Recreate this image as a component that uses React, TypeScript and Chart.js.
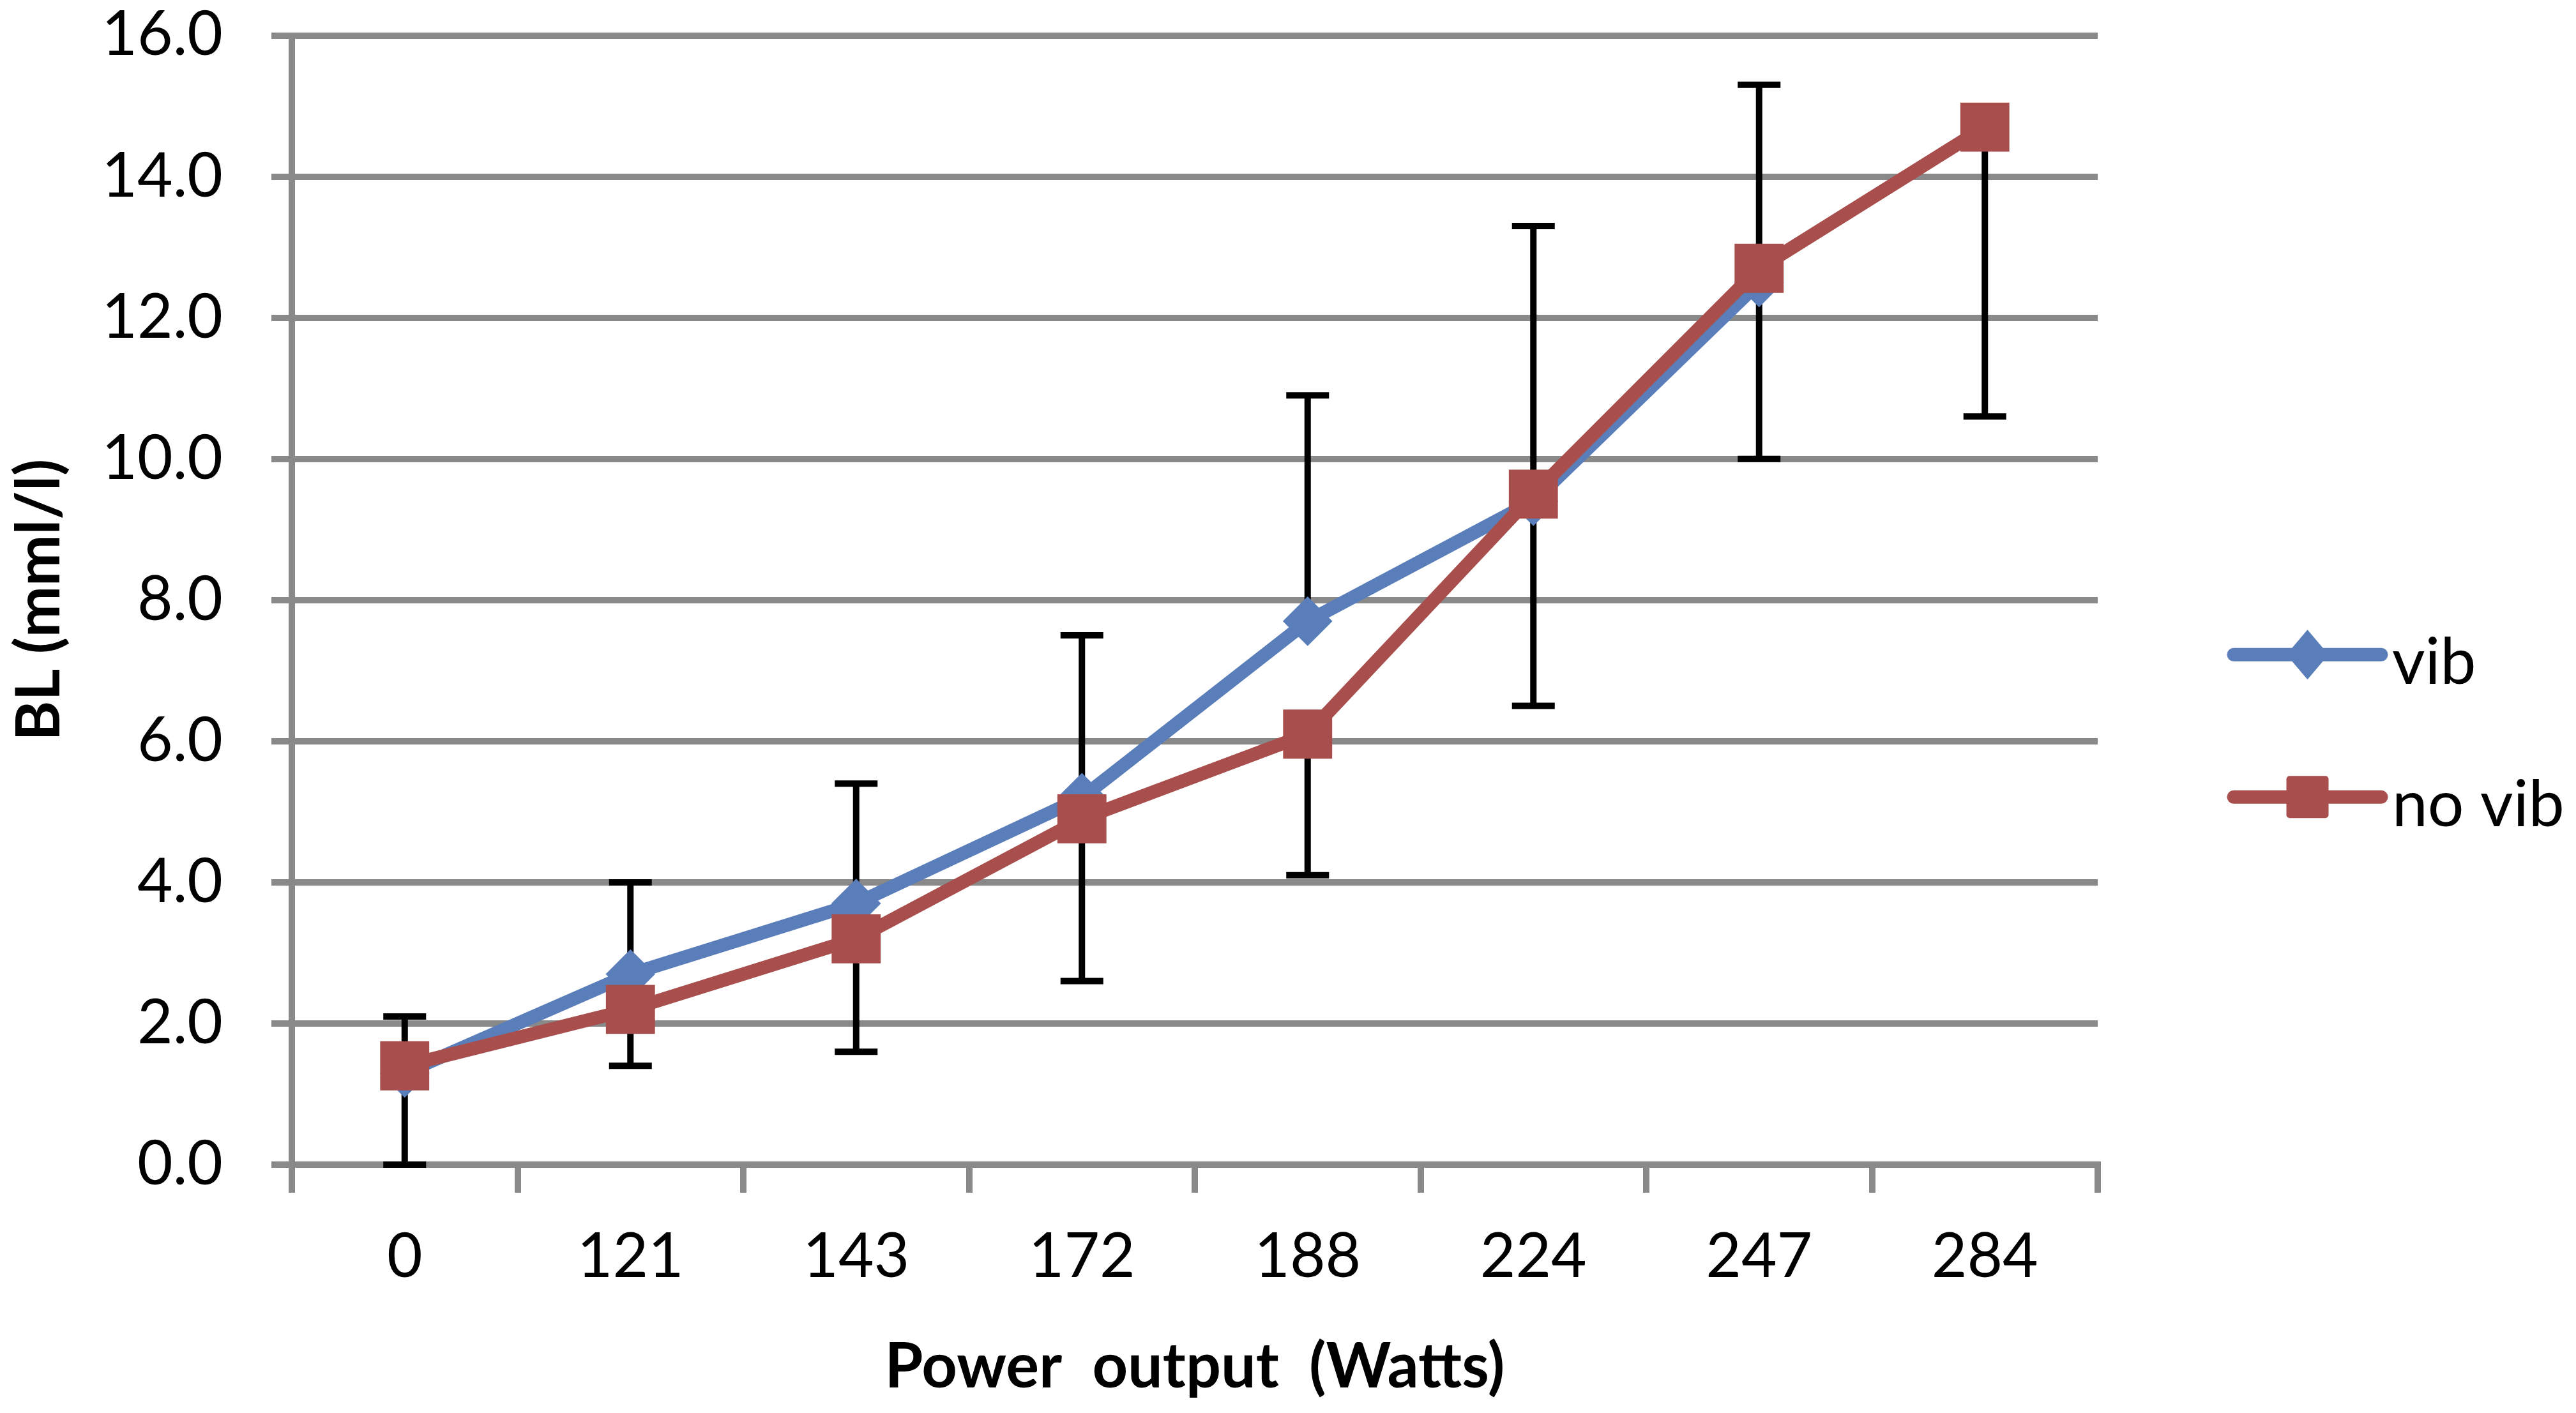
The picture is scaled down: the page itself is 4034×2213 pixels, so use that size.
import React, { useEffect, useRef } from 'react';
import { Chart, registerables } from 'chart.js';

Chart.register(...registerables);

// ---- data ----
const categories = ['0', '121', '143', '172', '188', '224', '247', '284'];
const seriesNames = ['vib', 'no vib'];
const vibValues: (number | null)[] = [1.3, 2.7, 3.7, 5.2, 7.7, 9.4, 12.5, null];
const noVibValues: (number | null)[] = [1.4, 2.2, 3.2, 4.9, 6.1, 9.5, 12.7, 14.7];
// error bar end points (vib: upward bars, no vib: downward bars)
const vibUpper: (number | null)[] = [2.1, 4.0, 5.4, 7.5, 10.9, 13.3, 15.3, null];
const noVibLower: (number | null)[] = [0.0, 1.4, 1.6, 2.6, 4.1, 6.5, 10.0, 10.6];
const yMin = 0;
const yMax = 16;
const yStep = 2;

const BLUE = '#5A7EBA';
const RED = '#A84F4D';
const GRID = '#898989';
const FONT = 'Lato';

const errorBarPlugin = {
  id: 'errorBars',
  beforeDatasetsDraw(chart: any) {
    const { ctx, scales } = chart;
    const x = scales.x;
    const y = scales.y;
    const cap = 67;
    ctx.save();
    ctx.strokeStyle = '#000000';
    ctx.lineWidth = 10;
    ctx.lineCap = 'butt';
    const draw = (i: number, from: number | null, to: number | null) => {
      if (from == null || to == null) return;
      const px = x.getPixelForValue(i);
      const y0 = y.getPixelForValue(from);
      const y1 = y.getPixelForValue(to);
      ctx.beginPath();
      ctx.moveTo(px, y0);
      ctx.lineTo(px, y1);
      ctx.moveTo(px - cap / 2, y1);
      ctx.lineTo(px + cap / 2, y1);
      ctx.stroke();
    };
    categories.forEach((_, i) => {
      draw(i, vibValues[i], vibUpper[i]);
      draw(i, noVibValues[i], noVibLower[i]);
    });
    ctx.restore();
  },
};

const legendPlugin = {
  id: 'sideLegend',
  afterDraw(chart: any) {
    const { ctx, chartArea } = chart;
    const x0 = chartArea.right + 213;
    const x1 = chartArea.right + 444;
    const mx = (x0 + x1) / 2;
    const tx = chartArea.right + 461;
    const cy = (chartArea.top + chartArea.bottom) / 2 + 197;
    const rows = [
      { name: seriesNames[0], color: BLUE, marker: 'diamond', y: cy - 111.5 },
      { name: seriesNames[1], color: RED, marker: 'square', y: cy + 111.5 },
    ];
    ctx.save();
    rows.forEach((r) => {
      ctx.strokeStyle = r.color;
      ctx.fillStyle = r.color;
      ctx.lineWidth = 21;
      ctx.lineCap = 'round';
      ctx.beginPath();
      ctx.moveTo(x0, r.y);
      ctx.lineTo(x1, r.y);
      ctx.stroke();
      ctx.beginPath();
      if (r.marker === 'diamond') {
        ctx.moveTo(mx, r.y - 39);
        ctx.lineTo(mx + 33, r.y);
        ctx.lineTo(mx, r.y + 39);
        ctx.lineTo(mx - 33, r.y);
        ctx.closePath();
      } else {
        const s = 66;
        if ((ctx as any).roundRect) (ctx as any).roundRect(mx - s / 2, r.y - s / 2, s, s, 5);
        else ctx.rect(mx - s / 2, r.y - s / 2, s, s);
      }
      ctx.fill();
      ctx.fillStyle = '#000000';
      ctx.font = `100px ${FONT}`;
      ctx.textAlign = 'left';
      ctx.textBaseline = 'alphabetic';
      ctx.fillText(r.name, tx, r.y + 46);
    });
    ctx.restore();
  },
};

export default function App() {
  const ref = useRef<HTMLCanvasElement | null>(null);

  useEffect(() => {
    document.body.style.margin = '0';
    document.body.style.overflow = 'hidden';
    let chart: Chart | null = null;
    let cancelled = false;

    const make = () => {
      if (cancelled || !ref.current) return;
      chart = new Chart(ref.current, {
        type: 'line',
        data: {
          labels: categories,
          datasets: [
            {
              label: seriesNames[0],
              data: vibValues,
              order: 2,
              borderColor: BLUE,
              backgroundColor: BLUE,
              borderWidth: 21,
              borderCapStyle: 'round',
              borderJoinStyle: 'round',
              pointStyle: 'rectRot',
              pointRadius: 36,
              pointBorderWidth: 4,
              pointBackgroundColor: BLUE,
              pointBorderColor: BLUE,
              tension: 0,
              fill: false,
            },
            {
              label: seriesNames[1],
              data: noVibValues,
              order: 1,
              borderColor: RED,
              backgroundColor: RED,
              borderWidth: 21,
              borderCapStyle: 'round',
              borderJoinStyle: 'round',
              pointStyle: 'rect',
              pointRadius: 51.5,
              pointBorderWidth: 4,
              pointBackgroundColor: RED,
              pointBorderColor: RED,
              tension: 0,
              fill: false,
            },
          ],
        },
        options: {
          animation: false,
          responsive: true,
          maintainAspectRatio: false,
          events: [],
          layout: { padding: { top: 42, right: 749, left: 0, bottom: 0 } },
          plugins: {
            legend: { display: false },
            tooltip: { enabled: false },
          },
          scales: {
            x: {
              type: 'category',
              offset: true,
              grid: {
                display: true,
                drawOnChartArea: false,
                offset: true,
                drawTicks: true,
                tickLength: 44,
                color: GRID,
                lineWidth: 10,
              },
              border: { display: true, color: GRID, width: 10 },
              ticks: {
                font: { family: FONT, size: 96 },
                color: '#000000',
                padding: 43,
                maxRotation: 0,
                autoSkip: false,
              },
              title: {
                display: true,
                text: 'Power  output  (Watts)',
                font: { family: FONT, size: 97, weight: 'bold' },
                color: '#000000',
                padding: { top: 0, bottom: 13 },
              },
              afterFit: (s: any) => {
                s.height = 389;
                s.paddingLeft = 0;
                s.paddingRight = 0;
              },
            },
            y: {
              min: yMin,
              max: yMax,
              ticks: {
                stepSize: yStep,
                callback: (v: any) => Number(v).toFixed(1),
                font: { family: FONT, size: 96 },
                color: '#000000',
                padding: 76,
              },
              grid: {
                color: GRID,
                lineWidth: 10,
                tickLength: 32,
                drawTicks: true,
              },
              border: { display: true, color: GRID, width: 10 },
              title: {
                display: true,
                text: 'BL (mml/l)',
                font: { family: FONT, size: 96, weight: 'bold' },
                color: '#000000',
                padding: { top: 4, bottom: 0 },
              },
              afterFit: (s: any) => {
                s.width = 457;
                s.paddingTop = 0;
                s.paddingBottom = 0;
              },
            },
          },
        } as any,
        plugins: [errorBarPlugin, legendPlugin],
      });
    };

    const fonts: any = (document as any).fonts;
    if (fonts && fonts.load) {
      Promise.all([fonts.load(`96px ${FONT}`), fonts.load(`bold 96px ${FONT}`)]).then(make, make);
    } else {
      make();
    }

    return () => {
      cancelled = true;
      if (chart) chart.destroy();
    };
  }, []);

  return (
    <div style={{ width: 4034, height: 2213, position: 'relative', background: '#ffffff' }}>
      <canvas ref={ref} />
    </div>
  );
}
